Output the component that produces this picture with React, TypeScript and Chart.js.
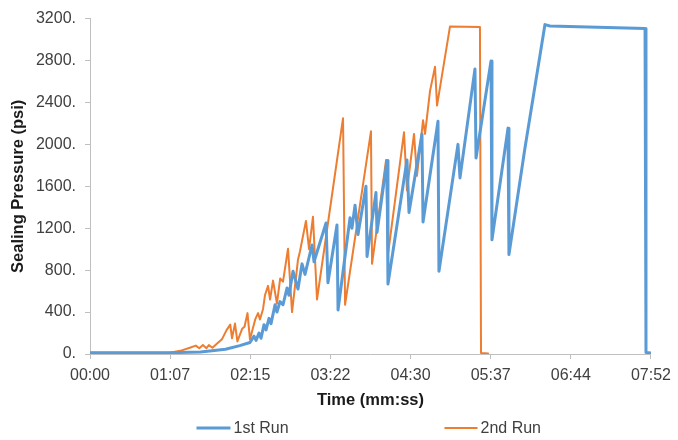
import { useEffect, useRef } from "react";
import { Chart, registerables } from "chart.js";

Chart.register(...registerables);

// Elapsed time (seconds) and sealing pressure (psi) for each run
const run1Seconds = [
  0, 67, 93, 114, 126, 134.6, 138, 139.7, 142.2, 143.9, 146.4, 148.1, 150.6, 152.3,
  155.7, 157.3, 159.9, 162.4, 165.8, 167.4, 170.8, 175, 178.4, 180.9, 186.8, 188.5,
  198.6, 200.2, 207.8, 208.7, 218.8, 220.4, 223, 225.5, 232.2, 233.1, 240.6, 241.5,
  249.9, 250.7, 266.7, 268.4, 279.3, 280.2, 292.8, 293.6, 309.6, 311.3, 323.9, 324.8,
  337.4, 338.2, 351.7, 352.5, 366, 382.8, 387, 467, 467.8, 472,
];
const run1Psi = [
  12, 12, 20, 45, 80, 110, 170, 130, 200, 150, 280, 230, 340, 290,
  470, 400, 500, 470, 630, 560, 790, 620, 860, 760, 1040, 880,
  1250, 680, 1230, 420, 1300, 1200, 1420, 1140, 1600, 930, 1540, 1160,
  1845, 667, 1850, 1350, 2100, 1260, 2220, 790, 2000, 1680, 2720, 1870,
  2795, 1090, 2155, 950, 1967, 3143, 3130, 3105, 15, 10,
];

const run2Seconds = [
  0, 67, 76, 84, 89, 92, 95, 98, 100, 103, 106, 111, 115, 118, 119.5, 122, 124,
  128, 130, 132.5, 134.6, 139, 141.4, 143, 145.6, 147.2, 149.8, 151.5, 154, 157.3,
  160, 162.4, 166.6, 170, 175, 176.7, 181.7, 184.3, 187.6, 191, 212.9, 214.6,
  236.4, 237.3, 249.1, 250.7, 264.2, 266.7, 272.6, 275.1, 280.2, 281.9, 286.1,
  290.3, 292, 302.9, 328.1, 329, 335,
];
const run2Psi = [
  12, 12, 30, 60, 80, 55, 85, 55, 85, 60, 90, 140, 230, 280, 150, 290, 120,
  240, 260, 390, 140, 330, 390, 330, 430, 560, 650, 520, 700, 480,
  720, 690, 1005, 400, 900, 980, 1270, 1000, 1310, 520, 2250, 470,
  2125, 860, 1850, 950, 2115, 1560, 2100, 1700, 2230, 2100, 2510,
  2740, 2370, 3125, 3120, 10, 5,
];

const seriesNames = ["1st Run", "2nd Run"];
const seriesColors = ["#5B9BD5", "#ED7D31"];
const timeTickLabels = ["00:00", "01:07", "02:15", "03:22", "04:30", "05:37", "06:44", "07:52"];
const timeAxisMaxSeconds = 472;
const pressureAxisMax = 3200;
const pressureStep = 400;

const FONT = "'Liberation Sans', Arial, Helvetica, sans-serif";

export default function App() {
  const canvasRef = useRef<HTMLCanvasElement>(null);

  useEffect(() => {
    if (!canvasRef.current) return;
    Chart.defaults.font.family = FONT;

    const toPoints = (xs: number[], ys: number[]) => xs.map((x, i) => ({ x, y: ys[i] }));

    // Legend drawn below the axis title, with the two entries spread apart
    const runLegend = {
      id: "runLegend",
      afterDraw(chart: any) {
        const { ctx, chartArea } = chart;
        const cx = (chartArea.left + chartArea.right) / 2;
        const y = 428;
        const entries = [
          { start: cx - 174, width: 34, lineWidth: 3 },
          { start: cx + 74, width: 33, lineWidth: 2 },
        ];
        ctx.save();
        ctx.font = `16px ${FONT}`;
        ctx.textBaseline = "middle";
        ctx.textAlign = "left";
        entries.forEach((e, i) => {
          ctx.strokeStyle = seriesColors[i];
          ctx.lineWidth = e.lineWidth;
          ctx.lineCap = "butt";
          ctx.beginPath();
          ctx.moveTo(e.start, y);
          ctx.lineTo(e.start + e.width, y);
          ctx.stroke();
          ctx.fillStyle = "#404040";
          ctx.fillText(seriesNames[i], e.start + e.width + 3, y + 1);
        });
        ctx.restore();
      },
    };

    const chart = new Chart(canvasRef.current, {
      type: "line",
      data: {
        datasets: [
          {
            label: seriesNames[0],
            data: toPoints(run1Seconds, run1Psi),
            borderColor: seriesColors[0],
            backgroundColor: seriesColors[0],
            borderWidth: 3,
            pointRadius: 0,
            tension: 0,
            borderJoinStyle: "round",
            borderCapStyle: "round",
          },
          {
            label: seriesNames[1],
            data: toPoints(run2Seconds, run2Psi),
            borderColor: seriesColors[1],
            backgroundColor: seriesColors[1],
            borderWidth: 2,
            pointRadius: 0,
            tension: 0,
            borderJoinStyle: "round",
            borderCapStyle: "round",
          },
        ],
      },
      options: {
        animation: false,
        responsive: false,
        devicePixelRatio: 1,
        layout: { padding: { top: 14, right: 27, bottom: 0, left: 0 } },
        plugins: {
          legend: { display: false },
          tooltip: { enabled: false },
        },
        scales: {
          x: {
            type: "linear",
            min: 0,
            max: timeAxisMaxSeconds,
            afterBuildTicks: (scale: any) => {
              scale.ticks = timeTickLabels.map((_, i) => ({
                value: (i * timeAxisMaxSeconds) / (timeTickLabels.length - 1),
              }));
            },
            afterFit: (scale: any) => {
              scale.height = 86;
            },
            ticks: {
              autoSkip: false,
              maxRotation: 0,
              padding: 7,
              color: "#404040",
              font: { size: 16 },
              callback: (_v: any, i: number) => timeTickLabels[i],
            },
            grid: {
              display: true,
              drawOnChartArea: false,
              drawTicks: true,
              tickLength: 5,
              color: "#bfbfbf",
            },
            border: { display: true, color: "#bfbfbf", width: 1 },
            title: {
              display: true,
              text: "Time (mm:ss)",
              color: "#1a1a1a",
              font: { size: 16.5, weight: "bold" },
              padding: { top: 0, bottom: 30 },
            },
          },
          y: {
            min: 0,
            max: pressureAxisMax,
            afterFit: (scale: any) => {
              scale.width = 90;
            },
            ticks: {
              stepSize: pressureStep,
              padding: 9,
              color: "#404040",
              font: { size: 16 },
              callback: (v: any) => `${v}.`,
            },
            grid: {
              display: true,
              drawOnChartArea: false,
              drawTicks: true,
              tickLength: 5,
              color: "#bfbfbf",
            },
            border: { display: true, color: "#bfbfbf", width: 1 },
            title: {
              display: true,
              text: "Sealing Pressure (psi)",
              color: "#1a1a1a",
              font: { size: 16.5, weight: "bold" },
              padding: { top: 9, bottom: 0 },
            },
          },
        },
      },
      plugins: [runLegend],
    });

    return () => chart.destroy();
  }, []);

  return (
    <div style={{ position: "absolute", left: 0, top: 0, width: 678, height: 440, background: "#fff" }}>
      <canvas ref={canvasRef} width={678} height={440} style={{ display: "block" }} />
    </div>
  );
}
